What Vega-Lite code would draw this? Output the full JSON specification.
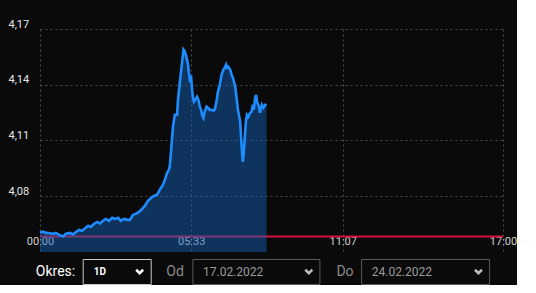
{
  "$schema": "https://vega.github.io/schema/vega-lite/v6.json",
  "background": "#0a0a0a",
  "padding": {"left": 8, "top": 18, "right": 0, "bottom": 0},
  "spacing": 6,
  "config": {"font": "Roboto", "view": {"stroke": null}, "axis": {"labelFont": "Roboto", "titleFont": "Roboto"}},
  "vconcat": [
    {
      "width": 463,
      "height": 223,
      "data": {"values": [
        {"t":"2022-02-17T00:00:00","v":4.0605},{"t":"2022-02-17T00:07:00","v":4.0610},{"t":"2022-02-17T00:13:00","v":4.0603},
        {"t":"2022-02-17T00:22:00","v":4.0601},{"t":"2022-02-17T00:29:00","v":4.0598},{"t":"2022-02-17T00:35:00","v":4.0603},
        {"t":"2022-02-17T00:44:00","v":4.0590},{"t":"2022-02-17T00:51:00","v":4.0584},{"t":"2022-02-17T00:57:00","v":4.0598},
        {"t":"2022-02-17T01:06:00","v":4.0603},{"t":"2022-02-17T01:13:00","v":4.0595},{"t":"2022-02-17T01:19:00","v":4.0608},
        {"t":"2022-02-17T01:26:00","v":4.0619},{"t":"2022-02-17T01:33:00","v":4.0614},{"t":"2022-02-17T01:39:00","v":4.0627},
        {"t":"2022-02-17T01:46:00","v":4.0641},{"t":"2022-02-17T01:52:00","v":4.0635},{"t":"2022-02-17T01:59:00","v":4.0652},
        {"t":"2022-02-17T02:06:00","v":4.0662},{"t":"2022-02-17T02:12:00","v":4.0654},{"t":"2022-02-17T02:19:00","v":4.0668},
        {"t":"2022-02-17T02:25:00","v":4.0678},{"t":"2022-02-17T02:32:00","v":4.0668},{"t":"2022-02-17T02:39:00","v":4.0684},
        {"t":"2022-02-17T02:45:00","v":4.0678},{"t":"2022-02-17T02:52:00","v":4.0684},{"t":"2022-02-17T02:58:00","v":4.0668},
        {"t":"2022-02-17T03:05:00","v":4.0678},{"t":"2022-02-17T03:12:00","v":4.0673},{"t":"2022-02-17T03:18:00","v":4.0673},
        {"t":"2022-02-17T03:25:00","v":4.0700},{"t":"2022-02-17T03:31:00","v":4.0705},{"t":"2022-02-17T03:38:00","v":4.0716},
        {"t":"2022-02-17T03:45:00","v":4.0732},{"t":"2022-02-17T03:51:00","v":4.0748},{"t":"2022-02-17T03:58:00","v":4.0775},
        {"t":"2022-02-17T04:05:00","v":4.0792},{"t":"2022-02-17T04:11:00","v":4.0802},{"t":"2022-02-17T04:18:00","v":4.0808},
        {"t":"2022-02-17T04:24:00","v":4.0835},{"t":"2022-02-17T04:31:00","v":4.0862},{"t":"2022-02-17T04:35:00","v":4.0888},
        {"t":"2022-02-17T04:40:00","v":4.0926},{"t":"2022-02-17T04:44:00","v":4.0942},{"t":"2022-02-17T04:46:00","v":4.0964},
        {"t":"2022-02-17T04:49:00","v":4.1050},{"t":"2022-02-17T04:51:00","v":4.1115},{"t":"2022-02-17T04:53:00","v":4.1174},
        {"t":"2022-02-17T04:57:00","v":4.1238},{"t":"2022-02-17T05:02:00","v":4.1238},{"t":"2022-02-17T05:04:00","v":4.1319},
        {"t":"2022-02-17T05:08:00","v":4.1411},{"t":"2022-02-17T05:13:00","v":4.1519},{"t":"2022-02-17T05:16:00","v":4.1589},
        {"t":"2022-02-17T05:19:00","v":4.1578},{"t":"2022-02-17T05:24:00","v":4.1535},{"t":"2022-02-17T05:26:00","v":4.1508},
        {"t":"2022-02-17T05:28:00","v":4.1465},{"t":"2022-02-17T05:30:00","v":4.1427},{"t":"2022-02-17T05:33:00","v":4.1438},
        {"t":"2022-02-17T05:35:00","v":4.1373},{"t":"2022-02-17T05:37:00","v":4.1330},{"t":"2022-02-17T05:39:00","v":4.1309},
        {"t":"2022-02-17T05:42:00","v":4.1319},{"t":"2022-02-17T05:46:00","v":4.1335},{"t":"2022-02-17T05:49:00","v":4.1319},
        {"t":"2022-02-17T05:52:00","v":4.1282},{"t":"2022-02-17T05:55:00","v":4.1265},{"t":"2022-02-17T05:57:00","v":4.1238},
        {"t":"2022-02-17T06:00:00","v":4.1222},{"t":"2022-02-17T06:03:00","v":4.1255},{"t":"2022-02-17T06:07:00","v":4.1282},
        {"t":"2022-02-17T06:10:00","v":4.1276},{"t":"2022-02-17T06:14:00","v":4.1265},{"t":"2022-02-17T06:19:00","v":4.1265},
        {"t":"2022-02-17T06:22:00","v":4.1260},{"t":"2022-02-17T06:25:00","v":4.1265},{"t":"2022-02-17T06:29:00","v":4.1314},
        {"t":"2022-02-17T06:32:00","v":4.1362},{"t":"2022-02-17T06:36:00","v":4.1400},{"t":"2022-02-17T06:40:00","v":4.1454},
        {"t":"2022-02-17T06:44:00","v":4.1481},{"t":"2022-02-17T06:48:00","v":4.1497},{"t":"2022-02-17T06:50:00","v":4.1508},
        {"t":"2022-02-17T06:52:00","v":4.1492},{"t":"2022-02-17T06:55:00","v":4.1497},{"t":"2022-02-17T06:59:00","v":4.1481},
        {"t":"2022-02-17T07:02:00","v":4.1454},{"t":"2022-02-17T07:05:00","v":4.1438},{"t":"2022-02-17T07:10:00","v":4.1389},
        {"t":"2022-02-17T07:13:00","v":4.1330},{"t":"2022-02-17T07:16:00","v":4.1265},{"t":"2022-02-17T07:21:00","v":4.1201},
        {"t":"2022-02-17T07:23:00","v":4.1115},{"t":"2022-02-17T07:25:00","v":4.1039},{"t":"2022-02-17T07:27:00","v":4.0985},
        {"t":"2022-02-17T07:29:00","v":4.1039},{"t":"2022-02-17T07:32:00","v":4.1147},{"t":"2022-02-17T07:34:00","v":4.1212},
        {"t":"2022-02-17T07:36:00","v":4.1238},{"t":"2022-02-17T07:39:00","v":4.1228},{"t":"2022-02-17T07:43:00","v":4.1249},
        {"t":"2022-02-17T07:46:00","v":4.1255},{"t":"2022-02-17T07:49:00","v":4.1292},{"t":"2022-02-17T07:51:00","v":4.1265},
        {"t":"2022-02-17T07:54:00","v":4.1330},{"t":"2022-02-17T07:56:00","v":4.1346},{"t":"2022-02-17T07:58:00","v":4.1309},
        {"t":"2022-02-17T08:01:00","v":4.1292},{"t":"2022-02-17T08:05:00","v":4.1249},{"t":"2022-02-17T08:07:00","v":4.1276},
        {"t":"2022-02-17T08:09:00","v":4.1292},{"t":"2022-02-17T08:12:00","v":4.1276},{"t":"2022-02-17T08:16:00","v":4.1292},
        {"t":"2022-02-17T08:19:00","v":4.1287}
      ]},
      "encoding": {
        "x": {
          "field": "t", "type": "temporal",
          "scale": {"domain": [{"year": 2022, "month": 2, "date": 17, "hours": 0}, {"year": 2022, "month": 2, "date": 17, "hours": 17}]},
          "axis": {
            "values": [
              {"year": 2022, "month": 2, "date": 17, "hours": 0, "minutes": 0},
              {"year": 2022, "month": 2, "date": 17, "hours": 5, "minutes": 33},
              {"year": 2022, "month": 2, "date": 17, "hours": 11, "minutes": 7},
              {"year": 2022, "month": 2, "date": 17, "hours": 17, "minutes": 0}
            ],
            "format": "%H:%M", "title": null, "domain": false, "ticks": false, "tickSize": 0,
            "labelPadding": -10.5, "labelBaseline": "middle", "labelFlush": false, "labelOverlap": false,
            "labelColor": "#d0d0d0", "labelFontSize": 11,
            "gridColor": "#4a4a4a", "gridDash": [2, 3], "gridWidth": 1
          }
        },
        "y": {
          "field": "v", "type": "quantitative",
          "scale": {"domain": [4.05, 4.17], "zero": false, "nice": false},
          "axis": {
            "values": [4.08, 4.11, 4.14, 4.17],
            "labelExpr": "replace(format(datum.value, '.2f'), '.', ',')",
            "title": null, "domain": false, "ticks": false, "tickSize": 0,
            "labelAlign": "left", "labelBaseline": "bottom", "labelPadding": 32,
            "labelColor": "#e6e6e6", "labelFontSize": 11,
            "gridColor": "#4a4a4a", "gridDash": [2, 3], "gridWidth": 1
          }
        }
      },
      "layer": [
        {
          "data": {"values": [{"v": 4.0583}]},
          "mark": {"type": "rule", "color": "#d2123e", "strokeWidth": 2},
          "encoding": {"x": null}
        },
        {"mark": {"type": "area", "color": "#1565c0", "opacity": 0.45, "clip": true}},
        {"mark": {"type": "line", "color": "#1e8cff", "strokeWidth": 2.6}}
      ]
    },
    {
      "spacing": 41.7,
      "bounds": "flush",
      "hconcat": [
        {
          "width": 1, "height": 25,
          "data": {"values": []},
          "mark": {"type": "point", "opacity": 0}
        },
        {
          "width": 68, "height": 25,
          "view": {"stroke": "#c8c8c8", "strokeWidth": 1},
          "data": {"values": [{"row": "r", "slot": "v", "label": "1D"}, {"row": "r", "slot": "a", "label": ""}]},
          "encoding": {
            "x": {"field": "slot", "type": "nominal", "sort": ["v", "a"], "scale": {"type": "point", "padding": 0.24}, "axis": null},
            "y": {"field": "row", "type": "nominal", "axis": {"title": "Okres:", "labels": false, "ticks": false, "domain": false, "grid": false, "titleAngle": 0, "titleAlign": "right", "titleBaseline": "middle", "titlePadding": 8, "titleFontSize": 14, "titleFontWeight": "normal", "titleColor": "#ffffff"}}
          },
          "layer": [
            {"mark": {"type": "text", "align": "left", "baseline": "middle", "fontSize": 10, "fontWeight": "bold", "color": "#ffffff"}, "encoding": {"text": {"field": "label"}}},
            {"transform": [{"filter": "datum.slot === 'a'"}], "mark": {"type": "point", "shape": "M-1,-0.5L0,0.5L1,-0.5", "filled": false, "strokeWidth": 2.5, "size": 49, "color": "#ffffff", "opacity": 1}}
          ]
        },
        {
          "width": 127, "height": 25,
          "view": {"stroke": "#5a5a5a", "strokeWidth": 1},
          "data": {"values": [{"row": "r", "slot": "v", "label": "17.02.2022"}, {"row": "r", "slot": "a", "label": ""}]},
          "encoding": {
            "x": {"field": "slot", "type": "nominal", "sort": ["v", "a"], "scale": {"type": "point", "padding": 0.1}, "axis": null},
            "y": {"field": "row", "type": "nominal", "axis": {"title": "Od", "labels": false, "ticks": false, "domain": false, "grid": false, "titleAngle": 0, "titleAlign": "right", "titleBaseline": "middle", "titlePadding": 9, "titleFontSize": 14, "titleFontWeight": "normal", "titleColor": "#8a8a8a"}}
          },
          "layer": [
            {"mark": {"type": "text", "align": "left", "baseline": "middle", "fontSize": 12, "color": "#9a9a9a"}, "encoding": {"text": {"field": "label"}}},
            {"transform": [{"filter": "datum.slot === 'a'"}], "mark": {"type": "point", "shape": "M-1,-0.5L0,0.5L1,-0.5", "filled": false, "strokeWidth": 2.5, "size": 49, "color": "#bdbdbd", "opacity": 1}}
          ]
        },
        {
          "width": 128, "height": 25,
          "view": {"stroke": "#5a5a5a", "strokeWidth": 1},
          "data": {"values": [{"row": "r", "slot": "v", "label": "24.02.2022"}, {"row": "r", "slot": "a", "label": ""}]},
          "encoding": {
            "x": {"field": "slot", "type": "nominal", "sort": ["v", "a"], "scale": {"type": "point", "padding": 0.1}, "axis": null},
            "y": {"field": "row", "type": "nominal", "axis": {"title": "Do", "labels": false, "ticks": false, "domain": false, "grid": false, "titleAngle": 0, "titleAlign": "right", "titleBaseline": "middle", "titlePadding": 8, "titleFontSize": 14, "titleFontWeight": "normal", "titleColor": "#8a8a8a"}}
          },
          "layer": [
            {"mark": {"type": "text", "align": "left", "baseline": "middle", "fontSize": 12, "color": "#9a9a9a"}, "encoding": {"text": {"field": "label"}}},
            {"transform": [{"filter": "datum.slot === 'a'"}], "mark": {"type": "point", "shape": "M-1,-0.5L0,0.5L1,-0.5", "filled": false, "strokeWidth": 2.5, "size": 49, "color": "#bdbdbd", "opacity": 1}}
          ]
        }
      ]
    }
  ]
}
